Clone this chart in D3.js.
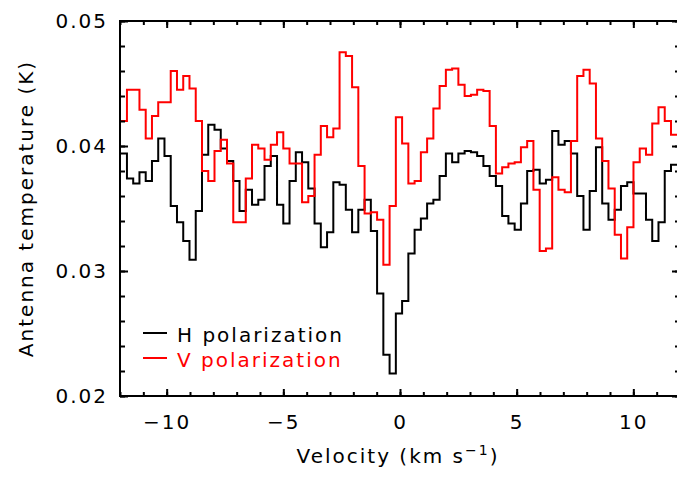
<!DOCTYPE html>
<html>
<head>
<meta charset="utf-8">
<script src="https://cdn.jsdelivr.net/npm/d3@7"></script>
<style>
  body { margin: 0; background: #fff; }
  svg text { font-family: "DejaVu Sans", sans-serif; font-size: 20px; letter-spacing: 2px; }
</style>
</head>
<body>
<svg width="677" height="479"></svg>
<script>
// channel grid (km/s)
var chanStart = -11.97;
var chanWidth = 0.268;

// H polarization (K), one value per channel
var hPol = [0.0394, 0.0374, 0.0370, 0.0379, 0.0372, 0.0388, 0.0406, 0.0392, 0.0352, 0.0339,
            0.0324, 0.0309, 0.0348, 0.0393, 0.0417, 0.0413, 0.0398, 0.0388, 0.0372, 0.0348,
            0.0365, 0.0353, 0.0357, 0.0384, 0.0392, 0.0353, 0.0338, 0.0372, 0.0395, 0.0387,
            0.0366, 0.0338, 0.0319, 0.0331, 0.0371, 0.0369, 0.0349, 0.0331, 0.0349, 0.0357,
            0.0332, 0.0282, 0.0233, 0.0218, 0.0266, 0.0276, 0.0314, 0.0333, 0.0342, 0.0354,
            0.0357, 0.0376, 0.0394, 0.0387, 0.0394, 0.0396, 0.0395, 0.0392, 0.0384, 0.0376,
            0.0368, 0.0344, 0.0338, 0.0333, 0.0354, 0.0380, 0.0381, 0.0370, 0.0373, 0.0412,
            0.0401, 0.0404, 0.0394, 0.0360, 0.0333, 0.0364, 0.0399, 0.0354, 0.0341, 0.0349,
            0.0368, 0.0371, 0.0362, 0.0362, 0.0341, 0.0324, 0.0339, 0.0380, 0.0385];

// V polarization (K)
var vPol = [0.0420, 0.0445, 0.0445, 0.0429, 0.0406, 0.0424, 0.0435, 0.0435, 0.0460, 0.0445,
            0.0456, 0.0446, 0.0420, 0.0380, 0.0372, 0.0396, 0.0405, 0.0386, 0.0339, 0.0339,
            0.0374, 0.0401, 0.0398, 0.0389, 0.0401, 0.0411, 0.0398, 0.0386, 0.0386, 0.0355,
            0.0360, 0.0393, 0.0416, 0.0407, 0.0414, 0.0475, 0.0472, 0.0447, 0.0384, 0.0346,
            0.0347, 0.0341, 0.0305, 0.0352, 0.0423, 0.0402, 0.0370, 0.0372, 0.0395, 0.0406,
            0.0430, 0.0448, 0.0461, 0.0462, 0.0449, 0.0440, 0.0441, 0.0445, 0.0444, 0.0416,
            0.0378, 0.0383, 0.0386, 0.0387, 0.0399, 0.0404, 0.0365, 0.0316, 0.0318, 0.0375,
            0.0365, 0.0363, 0.0404, 0.0456, 0.0461, 0.0450, 0.0406, 0.0388, 0.0366, 0.0329,
            0.0310, 0.0335, 0.0387, 0.0398, 0.0393, 0.0418, 0.0431, 0.0420, 0.0409];

var xMajor = [-10, -5, 0, 5, 10];
var xMinor = d3.range(-12, 13, 1);
var yMajor = [0.02, 0.03, 0.04, 0.05];
var yMinor = d3.range(0.02, 0.0501, 0.002);

var seriesNames = ["H polarization", "V polarization"];
var seriesColours = ["#000000", "#ff0000"];

var svg = d3.select("svg");

// plot box
var boxL = 120, boxR = 680, boxT = 21, boxB = 396;

var x = d3.scaleLinear().domain([-12, 12]).range([boxL, boxR]);
var y = d3.scaleLinear().domain([0.02, 0.05]).range([boxB, boxT]);

svg.append("clipPath").attr("id", "plotclip")
  .append("rect")
    .attr("x", boxL).attr("y", boxT)
    .attr("width", boxR - boxL).attr("height", boxB - boxT);

// step line through channel edges
var stepLine = d3.line()
    .x(function(d) { return x(d[0]); })
    .y(function(d) { return y(d[1]); })
    .curve(d3.curveStepAfter);

function edges(vals) {
  var pts = vals.map(function(v, i) { return [chanStart + i * chanWidth, v]; });
  pts.push([chanStart + vals.length * chanWidth, vals[vals.length - 1]]);
  return pts;
}

var plot = svg.append("g").attr("clip-path", "url(#plotclip)");
[hPol, vPol].forEach(function(vals, i) {
  plot.append("path")
    .attr("d", stepLine(edges(vals)))
    .attr("fill", "none")
    .attr("stroke", seriesColours[i])
    .attr("stroke-width", 2)
    .attr("stroke-linejoin", "miter");
});

// axes, ticks pointing inward on all four sides
function styleAxis(g) {
  g.select(".domain").remove();
  g.selectAll("line").attr("stroke", "#000").attr("stroke-width", 2);
  g.selectAll("text").attr("fill", "#000").style("font-size", "20px")
    .style("font-family", "DejaVu Sans, sans-serif");
}

svg.append("g").attr("transform", "translate(0," + boxB + ")")
  .call(d3.axisBottom(x).tickValues(xMinor).tickSize(-4).tickFormat(""))
  .call(styleAxis);
svg.append("g").attr("transform", "translate(0," + boxB + ")")
  .call(d3.axisBottom(x).tickValues(xMajor).tickSize(-7).tickPadding(19).tickFormat(d3.format("d")))
  .call(styleAxis);
svg.append("g").attr("transform", "translate(0," + boxT + ")")
  .call(d3.axisTop(x).tickValues(xMinor).tickSize(-4).tickFormat(""))
  .call(styleAxis);
svg.append("g").attr("transform", "translate(0," + boxT + ")")
  .call(d3.axisTop(x).tickValues(xMajor).tickSize(-7).tickFormat(""))
  .call(styleAxis);

svg.append("g").attr("transform", "translate(" + boxL + ",0)")
  .call(d3.axisLeft(y).tickValues(yMinor).tickSize(-5).tickFormat(""))
  .call(styleAxis);
svg.append("g").attr("transform", "translate(" + boxL + ",0)")
  .call(d3.axisLeft(y).tickValues(yMajor).tickSize(-8).tickPadding(12).tickFormat(d3.format(".2f")))
  .call(styleAxis);
svg.append("g").attr("transform", "translate(" + boxR + ",0)")
  .call(d3.axisRight(y).tickValues(yMinor).tickSize(-5).tickFormat(""))
  .call(styleAxis);
svg.append("g").attr("transform", "translate(" + boxR + ",0)")
  .call(d3.axisRight(y).tickValues(yMajor).tickSize(-8).tickFormat(""))
  .call(styleAxis);

// frame
svg.append("rect")
  .attr("x", boxL).attr("y", boxT)
  .attr("width", boxR - boxL).attr("height", boxB - boxT)
  .attr("fill", "none").attr("stroke", "#000").attr("stroke-width", 2);

// axis titles
var xt = svg.append("text")
  .attr("x", (boxL + boxR) / 2 - 2)
  .attr("y", 463)
  .attr("text-anchor", "middle")
  .attr("fill", "#000");
xt.append("tspan").text("Velocity (km s");
xt.append("tspan").attr("dy", -8).style("font-size", "14px").text("\u22121");
xt.append("tspan").attr("dy", 8).text(")");

svg.append("text")
  .attr("transform", "translate(33," + (boxT + boxB) / 2 + ") rotate(-90)")
  .attr("text-anchor", "middle")
  .attr("fill", "#000")
  .text("Antenna temperature (K)");

// legend
var legend = svg.append("g");
seriesNames.forEach(function(name, i) {
  var ly = 333 + i * 25;
  legend.append("line")
    .attr("x1", 143).attr("x2", 167)
    .attr("y1", ly).attr("y2", ly)
    .attr("stroke", seriesColours[i]).attr("stroke-width", 2);
  legend.append("text")
    .attr("x", 177).attr("y", ly + 9)
    .attr("fill", seriesColours[i])
    .text(name);
});
</script>
</body>
</html>
